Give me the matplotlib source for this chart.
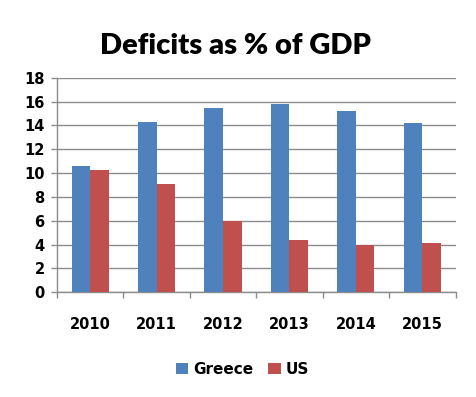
import matplotlib

matplotlib.use("Agg")

import matplotlib.pyplot as plt
import numpy as np

years = ["2010", "2011", "2012", "2013", "2014", "2015"]
greece = [10.6, 14.3, 15.5, 15.8, 15.2, 14.2]
us = [10.3, 9.1, 6.0, 4.4, 4.0, 4.1]
y_ticks = [0, 2, 4, 6, 8, 10, 12, 14, 16, 18]

BLUE = "#4F81BD"
RED = "#C0504D"
GRID = "#8C8C8C"


def main() -> None:
    fig = plt.figure(figsize=(4.77, 3.97), dpi=100)
    ax = fig.add_axes((0.1195, 0.2637, 0.8355, 0.5406))

    x = np.arange(len(years))
    width = 0.28
    ax.bar(x - width / 2, greece, width, color=BLUE, label="Greece", zorder=3)
    ax.bar(x + width / 2, us, width, color=RED, label="US", zorder=3)

    ax.set_xlim(-0.5, len(years) - 0.5)
    ax.set_ylim(0, 18)
    ax.set_yticks(y_ticks)
    ax.set_yticklabels([str(v) for v in y_ticks], fontsize=10.5, fontweight="bold")
    ax.set_xticks(x)
    ax.set_xticklabels(years, fontsize=10.5, fontweight="bold")
    ax.set_xticks(np.arange(len(years) + 1) - 0.5, minor=True)
    ax.tick_params(axis="x", which="major", length=0, pad=18)
    ax.tick_params(axis="x", which="minor", length=4, color=GRID, width=1)
    ax.tick_params(axis="y", length=4, color=GRID, width=1, pad=5)

    ax.grid(axis="y", color=GRID, linewidth=1, zorder=0)
    for side in ("top", "right"):
        ax.spines[side].set_visible(False)
    for side in ("left", "bottom"):
        ax.spines[side].set_color(GRID)
        ax.spines[side].set_linewidth(1)

    fig.text(0.493, 0.885, "Deficits as % of GDP", ha="center", va="center",
             fontsize=21, fontweight="heavy", family=["Lato", "DejaVu Sans"])

    fig.legend(loc="center", bbox_to_anchor=(0.508, 0.07), ncol=2, frameon=False,
               prop={"size": 11, "weight": "bold"}, handlelength=0.8, handleheight=0.8,
               handletextpad=0.3, columnspacing=1.0)

    fig.savefig("out.png", dpi=100)
    plt.close(fig)


if __name__ == "__main__":
    main()
